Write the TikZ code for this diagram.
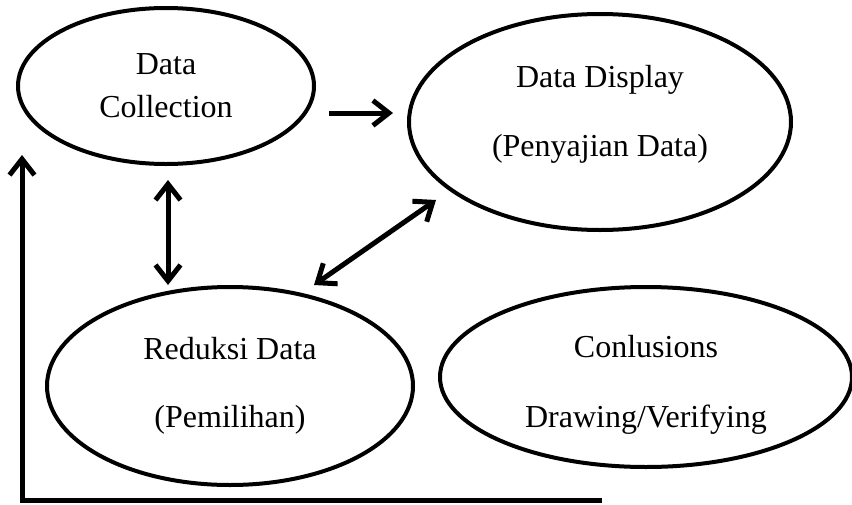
\documentclass[tikz,border=0pt]{standalone}
\usepackage{fontspec}
\setmainfont{Liberation Serif}
\usetikzlibrary{shapes.geometric,arrows.meta,calc}

\tikzset{
  stage/.style={draw, ellipse, line width=2pt, align=center, inner sep=0pt,
    font=\fontsize{16}{20}\selectfont},
  barb/.tip={Straight Barb[length=8pt,width=12.5pt]},
  link/.style={line width=2.5pt, -barb},
  twoway/.style={line width=2.5pt, barb-barb}
}

\begin{document}
\begin{tikzpicture}[x=0.5pt,y=-0.5pt]
  \useasboundingbox (0,0) rectangle (852,504);

  \node[stage, minimum width=148pt, minimum height=78pt] (dc) at (166,86) {Data\\[1.5pt]Collection};
  \node[stage, minimum width=191pt, minimum height=108pt] (dd) at (600,122) {Data Display\\[14.5pt](Penyajian Data)\\[-9pt]\mbox{}};
  \node[stage, minimum width=183pt, minimum height=99pt] (rd) at (230,386) {Reduksi Data\\[14pt](Pemilihan)};
  \node[stage, minimum width=206pt, minimum height=90pt] (cd) at (646,377) {\mbox{}\\[-1.5pt]Conlusions\\[15pt]Drawing/Verifying};

  \draw[link] ($(dc.east)+(13,27)$) -- ($(dd.west)+(-14,-9)$);
  \draw[twoway] ($(dc.south)+(2,14)$) -- ($(rd.north)+(-62,0)$);
  \draw[twoway] ($(rd.north)+(84,0)$) -- ($(dd.west)+(29,78)$);

  % feedback line
  \coordinate (fb0) at (602,500);
  \coordinate (fb1) at (22,155);
  \draw[link] (fb0) -| (fb1);
\end{tikzpicture}
\end{document}
